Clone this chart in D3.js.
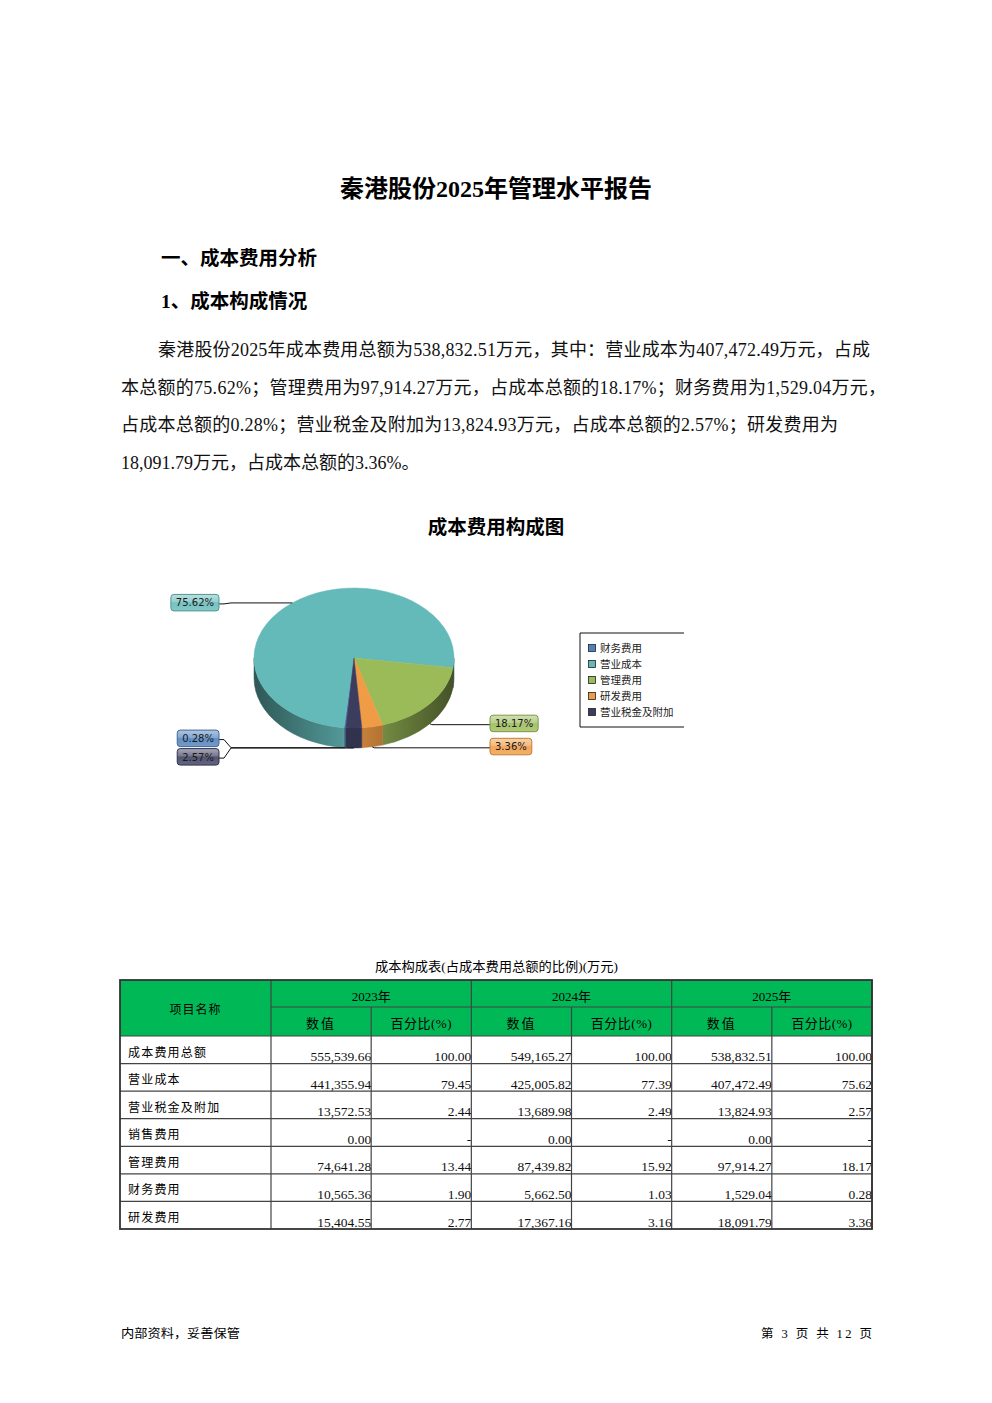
<!DOCTYPE html>
<html>
<head>
<meta charset="utf-8">
<script src="https://cdn.jsdelivr.net/npm/d3@7"></script>
<style>
body { margin: 0; background: #fff; }
</style>
</head>
<body>
<script>
// pie data (legend order, drawn clockwise)
var pieNames = ["财务费用", "营业成本", "管理费用", "研发费用", "营业税金及附加"];
var pieValues = [1529.04, 407472.49, 97914.27, 18091.79, 13824.93];
var pieColors = ["#4F81BD", "#64BAB9", "#9BBB59", "#F09B45", "#3C3D5E"];

// table data
var rowNames = ["成本费用总额", "营业成本", "营业税金及附加", "销售费用", "管理费用", "财务费用", "研发费用"];
var years = ["2023年", "2024年", "2025年"];
var subHeads = ["数值", "百分比(%)"];
var val2023 = [555539.66, 441355.94, 13572.53, 0.00, 74641.28, 10565.36, 15404.55];
var pct2023 = [100.00, 79.45, 2.44, null, 13.44, 1.90, 2.77];
var val2024 = [549165.27, 425005.82, 13689.98, 0.00, 87439.82, 5662.50, 17367.16];
var pct2024 = [100.00, 77.39, 2.49, null, 15.92, 1.03, 3.16];
var val2025 = [538832.51, 407472.49, 13824.93, 0.00, 97914.27, 1529.04, 18091.79];
var pct2025 = [100.00, 75.62, 2.57, null, 18.17, 0.28, 3.36];

// text
var pageTitle = "秦港股份2025年管理水平报告";
var heading1 = "一、成本费用分析";
var heading2 = "1、成本构成情况";
var paraLines = [
    "秦港股份2025年成本费用总额为538,832.51万元，其中：营业成本为407,472.49万元，占成",
    "本总额的75.62%；管理费用为97,914.27万元，占成本总额的18.17%；财务费用为1,529.04万元，",
    "占成本总额的0.28%；营业税金及附加为13,824.93万元，占成本总额的2.57%；研发费用为",
    "18,091.79万元，占成本总额的3.36%。"
];
var chartTitle = "成本费用构成图";
var tableCaption = "成本构成表(占成本费用总额的比例)(万元)";

var FONT = "'Liberation Serif','Noto Sans CJK SC',serif";
var SANS = "'Noto Sans CJK SC',sans-serif";

var svg = d3.select("body").append("svg")
    .attr("width", 992)
    .attr("height", 1403);

// ---------- page text ----------
svg.append("text")
    .attr("x", 496).attr("y", 197)
    .attr("text-anchor", "middle")
    .style("font-family", FONT).style("font-weight", "bold").style("font-size", "24px")
    .text(pageTitle);

svg.append("text")
    .attr("x", 161).attr("y", 265)
    .style("font-family", FONT).style("font-weight", "bold").style("font-size", "19.5px")
    .text(heading1);

svg.append("text")
    .attr("x", 161).attr("y", 308)
    .style("font-family", FONT).style("font-weight", "bold").style("font-size", "19.5px")
    .text(heading2);

var lineX = [158, 121, 121, 121];
var lineLen = [712, 765, 717, null];
paraLines.forEach(function (s, i) {
    var t = svg.append("text")
        .attr("x", lineX[i]).attr("y", 356 + i * 37.7)
        .style("font-family", FONT).style("font-size", "18px")
        .style("fill", "#111")
        .text(s);
    if (lineLen[i]) t.attr("textLength", lineLen[i]).attr("lengthAdjust", "spacing");
});

svg.append("text")
    .attr("x", 496).attr("y", 534)
    .attr("text-anchor", "middle")
    .style("font-family", SANS).style("font-weight", "bold").style("font-size", "19.5px")
    .text(chartTitle);

// ---------- 3D pie ----------
var cx = 354, cy = 658, rx = 100, ry = 70, depth = 20;
var startRad = 184.76 * Math.PI / 180;

function ex(a) { return cx + rx * Math.sin(a); }
function ey(a) { return cy - ry * Math.cos(a); }

var pieData = pieNames.map(function (n, i) {
    return { name: n, v: pieValues[i], color: pieColors[i] };
});
var total = d3.sum(pieValues);
var arcs = d3.pie().sort(null).value(function (d) { return d.v; })
    .startAngle(startRad).endAngle(startRad + 2 * Math.PI)(pieData);

var defs = svg.append("defs");
arcs.forEach(function (a, i) {
    var c = d3.color(a.data.color);
    var g = defs.append("linearGradient")
        .attr("id", "wall" + i)
        .attr("gradientUnits", "userSpaceOnUse")
        .attr("x1", cx - rx).attr("x2", cx + rx).attr("y1", 0).attr("y2", 0);
    g.append("stop").attr("offset", "0").attr("stop-color", c.darker(2.1));
    g.append("stop").attr("offset", "0.45").attr("stop-color", c.darker(0.55));
    g.append("stop").attr("offset", "0.55").attr("stop-color", c.darker(0.55));
    g.append("stop").attr("offset", "1").attr("stop-color", c.darker(2.3));

    // glossy label box fill
    var mix = d3.interpolateRgb(a.data.color, "#ffffff");
    var lg = defs.append("linearGradient")
        .attr("id", "lbl" + i)
        .attr("x1", 0).attr("x2", 0).attr("y1", 0).attr("y2", 1);
    lg.append("stop").attr("offset", "0").attr("stop-color", mix(0.55));
    lg.append("stop").attr("offset", "0.45").attr("stop-color", mix(0.3));
    lg.append("stop").attr("offset", "0.5").attr("stop-color", mix(0.12));
    lg.append("stop").attr("offset", "1").attr("stop-color", mix(0.2));
});

// walls (front half only)
var walls = svg.append("g");
arcs.forEach(function (a, i) {
    for (var k = -1; k <= 2; k++) {
        var f0 = Math.PI / 2 + 2 * Math.PI * k, f1 = 3 * Math.PI / 2 + 2 * Math.PI * k;
        var s = Math.max(a.startAngle, f0), e = Math.min(a.endAngle, f1);
        if (e - s <= 0.0001) continue;
        var p = "M" + ex(s) + "," + ey(s)
            + " A" + rx + "," + ry + " 0 0 1 " + ex(e) + "," + ey(e)
            + " L" + ex(e) + "," + (ey(e) + depth)
            + " A" + rx + "," + ry + " 0 0 0 " + ex(s) + "," + (ey(s) + depth) + " Z";
        walls.append("path")
            .attr("d", p)
            .attr("fill", "url(#wall" + i + ")")
            .attr("stroke", "url(#wall" + i + ")")
            .attr("stroke-width", 0.5);
    }
});

// top faces
var tops = svg.append("g");
arcs.forEach(function (a) {
    var large = (a.endAngle - a.startAngle) > Math.PI ? 1 : 0;
    var p = "M" + cx + "," + cy
        + " L" + ex(a.startAngle) + "," + ey(a.startAngle)
        + " A" + rx + "," + ry + " 0 " + large + " 1 " + ex(a.endAngle) + "," + ey(a.endAngle) + " Z";
    tops.append("path")
        .attr("d", p)
        .attr("fill", a.data.color)
        .attr("stroke", a.data.color)
        .attr("stroke-width", 0.5);
});

// labels
var fmtPct = d3.format(".2f");
var labels = arcs.map(function (a, i) {
    var mid = (a.startAngle + a.endAngle) / 2;
    var ax = ex(mid), ay = ey(mid) + (Math.cos(mid) < 0 ? depth : 0);
    return {
        i: i, ax: ax, ay: ay, ly: ay,
        left: Math.sin(mid) < 0,
        text: fmtPct(a.data.v / total * 100) + "%",
        color: a.data.color
    };
});

// spread overlapping labels on each side
[true, false].forEach(function (side) {
    var group = labels.filter(function (l) { return l.left === side; })
        .sort(function (p, q) { return p.ay - q.ay; });
    var gap = 18.5;
    for (var iter = 0; iter < 20; iter++) {
        for (var j = 1; j < group.length; j++) {
            var d = group[j].ly - group[j - 1].ly;
            if (d < gap) {
                var shift = (gap - d) / 2;
                group[j - 1].ly -= shift;
                group[j].ly += shift;
            }
        }
    }
});

var lblG = svg.append("g");
labels.forEach(function (l) {
    var pts;
    if (l.left) {
        pts = [[l.ax, l.ay], [231, l.ay], [224, l.ly + 1], [219, l.ly + 1]];
    } else {
        pts = [[l.ax, l.ay], [l.ax + 2, l.ay + 1], [490, l.ay + 1]];
    }
    lblG.append("path")
        .attr("d", d3.line()(pts))
        .attr("fill", "none")
        .attr("stroke", "#111")
        .attr("stroke-width", 1);
});
labels.forEach(function (l) {
    var t = lblG.append("text")
        .style("font-family", "'DejaVu Sans',sans-serif")
        .style("font-size", "10px")
        .style("fill", "#1a1a1a")
        .attr("text-anchor", "middle")
        .text(l.text);
    var w = t.node().getComputedTextLength() + 10;
    var bx = l.left ? 219 - w : 490;
    var by = l.ly - 0.5 - 8;
    lblG.insert("rect", "text")
        .attr("x", bx).attr("y", by)
        .attr("width", w).attr("height", 16.5)
        .attr("rx", 3)
        .attr("fill", "url(#lbl" + l.i + ")")
        .attr("stroke", d3.color(l.color).darker(0.6))
        .attr("stroke-width", 1);
    t.attr("x", bx + w / 2).attr("y", by + 12);
});

// legend
var lg = svg.append("g");
lg.append("path")
    .attr("d", "M684,633 L580,633 L580,727 L684,727")
    .attr("fill", "none").attr("stroke", "#111").attr("stroke-width", 1);
pieData.forEach(function (d, i) {
    var y = 648 + i * 16;
    lg.append("rect")
        .attr("x", 588.5).attr("y", y - 3.5)
        .attr("width", 7).attr("height", 7)
        .attr("fill", d.color).attr("stroke", "#222").attr("stroke-width", 0.8);
    lg.append("text")
        .attr("x", 600).attr("y", y + 4)
        .style("font-family", SANS).style("font-size", "10.5px")
        .style("fill", "#222")
        .text(d.name);
});

// ---------- table ----------
svg.append("text")
    .attr("x", 375).attr("y", 971)
    .style("font-family", FONT).style("font-size", "13px")
    .attr("textLength", 243).attr("lengthAdjust", "spacingAndGlyphs")
    .text(tableCaption);

var tLeft = 120, tRight = 872, tTop = 980, hMid = 1007, hBot = 1036, tBot = 1229;
var firstColRight = 271;
var col = d3.scaleBand().domain(d3.range(6)).range([firstColRight, tRight]);
var row = d3.scaleBand().domain(d3.range(rowNames.length)).range([hBot, tBot]);
var fmtNum = d3.format(",.2f");

var tbl = svg.append("g");
tbl.append("rect")
    .attr("x", tLeft).attr("y", tTop)
    .attr("width", tRight - tLeft).attr("height", hBot - tTop)
    .attr("fill", "#00B956");

// header text
tbl.append("text")
    .attr("x", (tLeft + firstColRight) / 2).attr("y", 1014)
    .attr("text-anchor", "middle")
    .style("font-family", SANS).style("font-size", "12px").style("letter-spacing", "1px")
    .text("项目名称");
years.forEach(function (y, i) {
    tbl.append("text")
        .attr("x", col(i * 2) + col.bandwidth()).attr("y", 1000.5)
        .attr("text-anchor", "middle")
        .style("font-family", FONT).style("font-size", "13px")
        .text(y);
    subHeads.forEach(function (s, j) {
        tbl.append("text")
            .attr("x", col(i * 2 + j) + col.bandwidth() / 2).attr("y", 1027.5)
            .attr("text-anchor", "middle")
            .style("font-family", FONT).style("font-size", "13px")
            .style("letter-spacing", j === 0 ? "2px" : "0.5px")
            .text(s);
    });
});

// body
var valCols = [val2023, pct2023, val2024, pct2024, val2025, pct2025];
rowNames.forEach(function (n, r) {
    var top = row(r), bot = row(r) + row.bandwidth();
    tbl.append("text")
        .attr("x", 128).attr("y", top + 20.5)
        .style("font-family", SANS).style("font-size", "12px").style("letter-spacing", "1.2px")
        .text(n);
    valCols.forEach(function (arr, c) {
        var v = arr[r];
        tbl.append("text")
            .attr("x", col(c) + col.bandwidth()).attr("y", bot - 2.5)
            .attr("text-anchor", "end")
            .style("font-family", FONT).style("font-size", "13.5px")
            .style("fill", "#111")
            .text(v === null ? "-" : fmtNum(v));
    });
});

// grid lines
var lineColor = "#444";
// horizontal
rowNames.forEach(function (n, r) {
    tbl.append("line")
        .attr("x1", tLeft).attr("x2", tRight)
        .attr("y1", row(r)).attr("y2", row(r))
        .attr("stroke", lineColor).attr("stroke-width", 1.2);
});
tbl.append("line")
    .attr("x1", firstColRight).attr("x2", tRight)
    .attr("y1", hMid).attr("y2", hMid)
    .attr("stroke", lineColor).attr("stroke-width", 1.2);
// vertical
d3.range(7).forEach(function (c) {
    var x = c === 6 ? tRight : col(c);
    var odd = c % 2 === 1;
    tbl.append("line")
        .attr("x1", x).attr("x2", x)
        .attr("y1", odd ? hMid : tTop).attr("y2", tBot)
        .attr("stroke", lineColor).attr("stroke-width", 1.2);
});
tbl.append("rect")
    .attr("x", tLeft).attr("y", tTop)
    .attr("width", tRight - tLeft).attr("height", tBot - tTop)
    .attr("fill", "none").attr("stroke", "#333").attr("stroke-width", 1.8);

// ---------- footer ----------
svg.append("text")
    .attr("x", 121).attr("y", 1338)
    .style("font-family", SANS).style("font-size", "12.5px")
    .attr("textLength", 119).attr("lengthAdjust", "spacingAndGlyphs")
    .text("内部资料，妥善保管");
svg.append("text")
    .attr("x", 761).attr("y", 1338)
    .style("font-family", FONT).style("font-size", "12.5px")
    .attr("textLength", 111).attr("lengthAdjust", "spacing")
    .text("第 3 页  共 12 页");
</script>
</body>
</html>
